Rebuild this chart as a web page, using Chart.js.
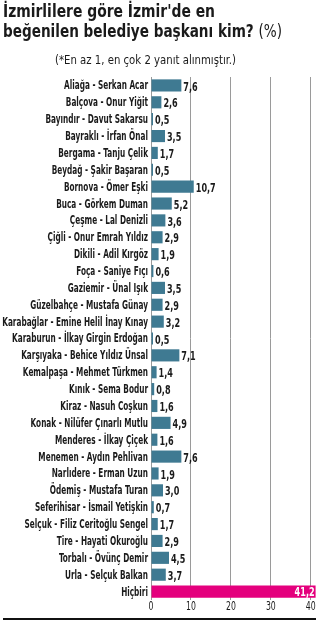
<!DOCTYPE html>
<html><head><meta charset="utf-8">
<script src="https://cdn.jsdelivr.net/npm/chart.js@4"></script>
<style>
html,body{margin:0;padding:0;background:#fff;}
#wrap{position:relative;width:333px;height:631px;overflow:hidden;}
.t{position:absolute;white-space:nowrap;font-family:"DejaVu Sans Condensed","DejaVu Sans",sans-serif;color:#1a1a1a;transform-origin:0 0;}
#t1,#t2{left:3px;font-weight:bold;font-size:17px;}
#t1{top:1px;}
#t2{top:21px;}
#t2 .n{font-weight:normal;}
#sub{left:55px;top:52px;font-size:13px;}
#rule{position:absolute;left:3px;width:313px;top:618px;height:2px;background:#111;}
canvas{position:absolute;left:0;top:0;}
</style></head>
<body><div id="wrap">
<canvas id="c" width="333" height="631"></canvas>
<div class="t" id="t1">İzmirlilere göre İzmir'de en</div>
<div class="t" id="t2">beğenilen belediye başkanı kim? <span class="n">(%)</span></div>
<div class="t" id="sub">(*En az 1, en çok 2 yanıt alınmıştır.)</div>
<div id="rule"></div>
</div>
<script>
const categories = ["Aliağa - Serkan Acar","Balçova - Onur Yiğit","Bayındır - Davut Sakarsu","Bayraklı - İrfan Önal","Bergama - Tanju Çelik","Beydağ - Şakir Başaran","Bornova - Ömer Eşki","Buca - Görkem Duman","Çeşme - Lal Denizli","Çiğli - Onur Emrah Yıldız","Dikili - Adil Kırgöz","Foça - Saniye Fıçı","Gaziemir - Ünal Işık","Güzelbahçe - Mustafa Günay","Karabağlar - Emine Helil İnay Kınay","Karaburun - İlkay Girgin Erdoğan","Karşıyaka - Behice Yıldız Ünsal","Kemalpaşa - Mehmet Türkmen","Kınık - Sema Bodur","Kiraz - Nasuh Coşkun","Konak - Nilüfer Çınarlı Mutlu","Menderes - İlkay Çiçek","Menemen - Aydın Pehlivan","Narlıdere - Erman Uzun","Ödemiş - Mustafa Turan","Seferihisar - İsmail Yetişkin","Selçuk - Filiz Ceritoğlu Sengel","Tire - Hayati Okuroğlu","Torbalı - Övünç Demir","Urla - Selçuk Balkan","Hiçbiri"];
const values = [7.6,2.6,0.5,3.5,1.7,0.5,10.7,5.2,3.6,2.9,1.9,0.6,3.5,2.9,3.2,0.5,7.1,1.4,0.8,1.6,4.9,1.6,7.6,1.9,3.0,0.7,1.7,2.9,4.5,3.7,41.2];
const xTicks = [0,10,20,30,40];

const FONT = '"DejaVu Sans Condensed","DejaVu Sans",sans-serif';
const colors = values.map((v,i)=> i===values.length-1 ? '#e4007d' : '#3f7a92');

// horizontal condensing factor (reference uses a condensed face)
function fitScale(el, target){
  const w = el.getBoundingClientRect().width;
  el.style.transform = 'scaleX(' + (target / w) + ')';
}
fitScale(document.getElementById('t1'), 212);
fitScale(document.getElementById('t2'), 279);
fitScale(document.getElementById('sub'), 181);

const mctx = document.createElement('canvas').getContext('2d');
mctx.font = 'bold 11.5px ' + FONT;
const LBL_S = 84 / mctx.measureText('Aliağa - Serkan Acar').width;

function condText(ctx, txt, x, y, align, s){
  ctx.save();
  ctx.translate(x, y);
  ctx.scale(s, 1);
  ctx.textAlign = align;
  ctx.fillText(txt, 0, 0);
  ctx.restore();
}

const textPlugin = {
  id:'textPlugin',
  afterDraw(chart){
    const ctx = chart.ctx;
    const meta = chart.getDatasetMeta(0);
    const ys = chart.scales.y, xs = chart.scales.x;
    ctx.save();
    ctx.textBaseline = 'middle';
    // category labels
    ctx.font = 'bold 11.5px ' + FONT;
    ctx.fillStyle = '#1a1a1a';
    categories.forEach((c,i)=>{
      condText(ctx, c, chart.chartArea.left - 3, ys.getPixelForValue(i) + 1, 'right', LBL_S);
    });
    // value labels
    ctx.font = 'bold 12px ' + FONT;
    meta.data.forEach((bar,i)=>{
      const txt = values[i].toFixed(1).replace('.',',');
      if(i===values.length-1){
        ctx.fillStyle = '#fff';
        condText(ctx, txt, bar.x-1, bar.y+1, 'right', 0.75);
      } else {
        ctx.fillStyle = '#1a1a1a';
        condText(ctx, txt, bar.x+2, bar.y+2, 'left', 0.75);
      }
    });
    // x tick labels
    ctx.font = '11.5px ' + FONT;
    ctx.fillStyle = '#1a1a1a';
    xTicks.forEach(v=>{
      condText(ctx, String(v), xs.getPixelForValue(v), chart.chartArea.bottom + 7, 'center', 0.75);
    });
    ctx.restore();
  }
};

new Chart(document.getElementById('c'), {
  type:'bar',
  data:{labels:categories, datasets:[{data:values, backgroundColor:colors, borderWidth:0, categoryPercentage:0.72, barPercentage:1}]},
  options:{
    indexAxis:'y', responsive:false, animation:false,
    layout:{padding:{top:77,right:17,bottom:13,left:0}},
    plugins:{legend:{display:false}, tooltip:{enabled:false}},
    scales:{
      x:{min:0,max:41.3,
        afterBuildTicks(s){ s.ticks = xTicks.map(v=>({value:v})); },
        afterFit(s){ s.height = 18; },
        grid:{color:'#9a9a9a',lineWidth:1,drawTicks:false},
        border:{display:false},
        ticks:{display:false}
      },
      y:{
        afterFit(s){ s.width = 151; },
        grid:{display:false,drawTicks:false},
        border:{display:false},
        ticks:{display:false,autoSkip:false}
      }
    }
  },
  plugins:[textPlugin]
});
</script>
</body></html>
